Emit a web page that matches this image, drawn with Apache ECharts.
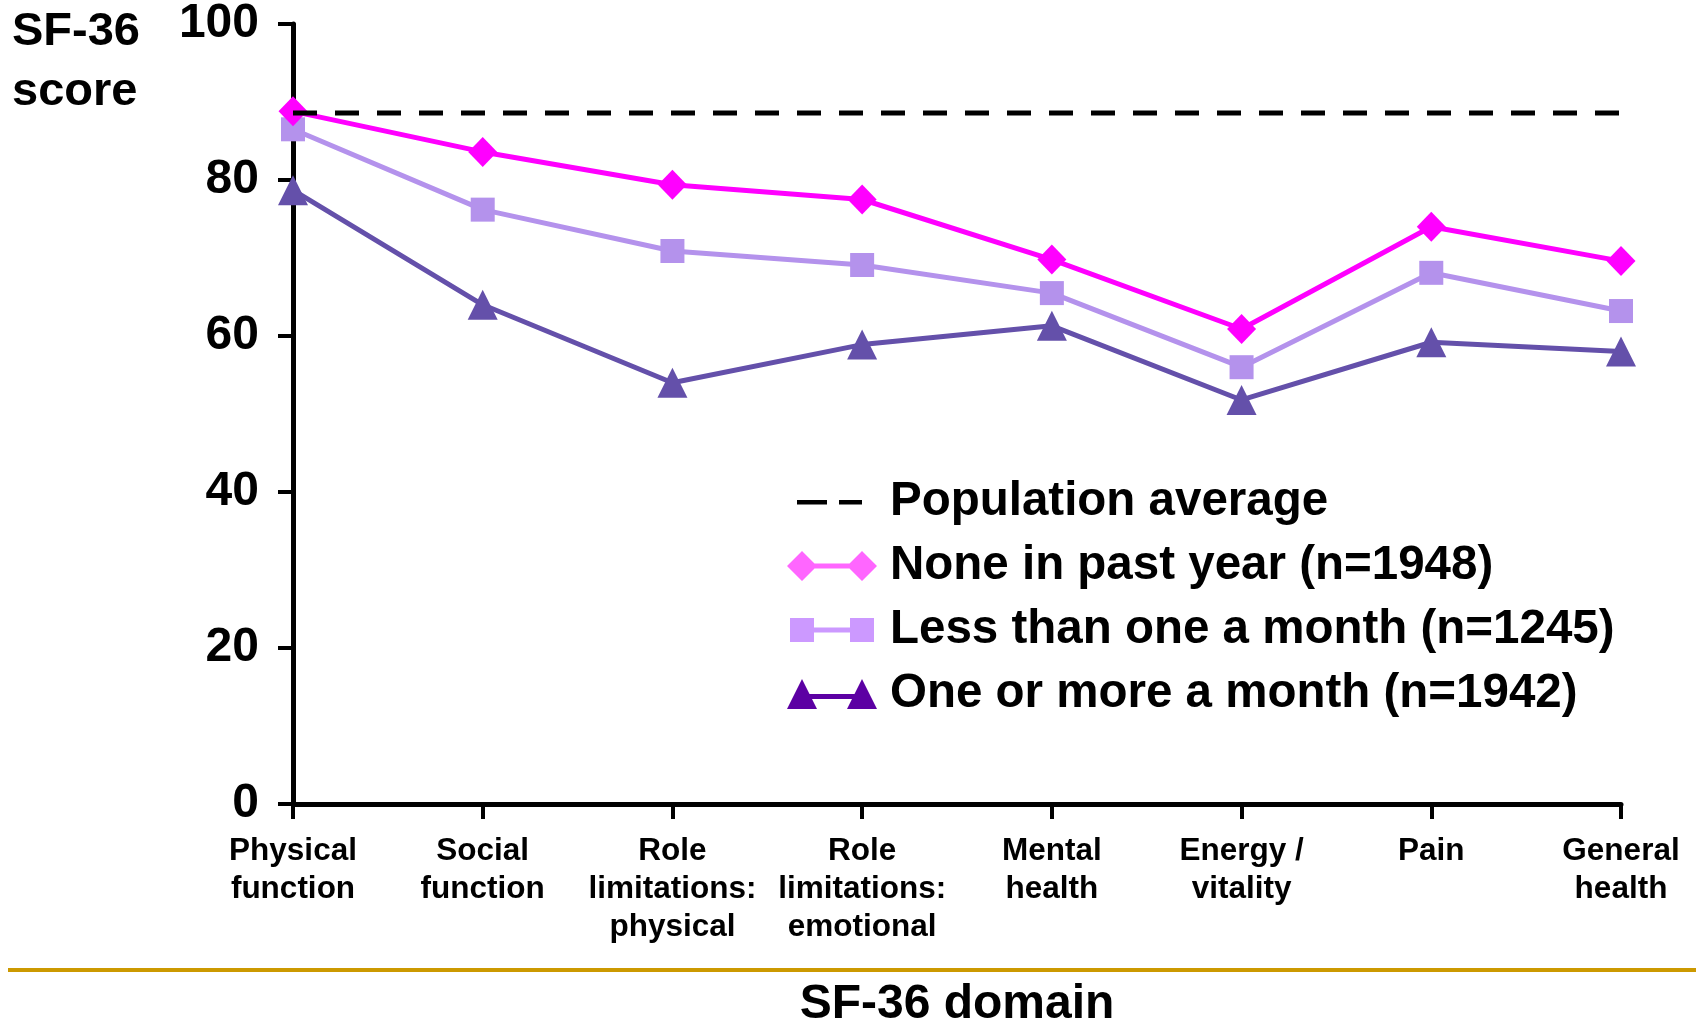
<!DOCTYPE html>
<html>
<head>
<meta charset="utf-8">
<title>SF-36 score by SF-36 domain</title>
<script src="https://cdn.jsdelivr.net/npm/echarts@6/dist/echarts.min.js"></script>
<style>
  html, body { margin: 0; padding: 0; background: #ffffff; }
  #chart { width: 1696px; height: 1022px; }
</style>
</head>
<body>
<div id="chart"></div>
<script>
// SF-36 domains along the x axis
const domains = [
  'Physical\nfunction',
  'Social\nfunction',
  'Role\nlimitations:\nphysical',
  'Role\nlimitations:\nemotional',
  'Mental\nhealth',
  'Energy /\nvitality',
  'Pain',
  'General\nhealth'
];

// Mean SF-36 scores per group
const noneInPastYear   = [88.8, 83.6, 79.4, 77.5, 69.8, 60.9, 74.0, 69.6];
const lessThanMonthly  = [86.5, 76.2, 70.9, 69.1, 65.5, 56.0, 68.1, 63.2];
const monthlyOrMore    = [78.7, 64.0, 54.0, 58.9, 61.3, 51.8, 59.2, 58.0];

// Reference value for the general population
const populationAverage = 88.6;

// Value axis ticks
const yTicks = { min: 0, max: 100, step: 20 };

const seriesNames = [
  'Population average',
  'None in past year (n=1948)',
  'Less than one a month (n=1245)',
  'One or more a month (n=1942)'
];

const FONT = '"Liberation Sans", Arial, sans-serif';

// Legend glyphs: marker - bar - marker, like the plotted lines
const iconDash     = 'path://M0 0L0 0ZM90 30L90 30ZM10 13L40 13L40 17.5L10 17.5ZM52 13L75 13L75 17.5L52 17.5Z';
const iconDiamond  = 'path://M0 15L15 0L30 15L15 30ZM60 15L75 0L90 15L75 30ZM15 12.5L75 12.5L75 17.5L15 17.5Z';
const iconSquare   = 'path://M0 0L0 0ZM90 30L90 30ZM3 3L27 3L27 27L3 27ZM63 3L87 3L87 27L63 27ZM27 12.5L63 12.5L63 17.5L27 17.5Z';
const iconTriangle = 'path://M0 30L15 0L30 30ZM60 30L75 0L90 30ZM15 15L75 15L75 20L15 20Z';

const chart = echarts.init(document.getElementById('chart'), null, { renderer: 'canvas' });

const option = {
  animation: false,
  backgroundColor: '#ffffff',
  textStyle: { fontFamily: FONT },
  title: {
    text: 'SF-36\nscore',
    left: 12,
    top: 2,
    padding: 0,
    textStyle: {
      fontFamily: FONT,
      fontWeight: 'bold',
      fontSize: 47,
      lineHeight: 60,
      color: '#000000'
    }
  },
  grid: {
    left: 293,
    right: 75,
    top: 24,
    bottom: 218,
    containLabel: false,
    outerBoundsMode: 'none'
  },
  legend: {
    orient: 'vertical',
    left: 782,
    top: 473,
    itemWidth: 94,
    itemHeight: 30,
    itemGap: 16,
    selectedMode: false,
    textStyle: {
      fontFamily: FONT,
      fontWeight: 'bold',
      fontSize: 47.5,
      lineHeight: 47.5,
      color: '#000000',
      padding: [0, 0, 0, 6]
    },
    data: [
      { name: seriesNames[0], icon: iconDash,     itemStyle: { color: '#000000' } },
      { name: seriesNames[1], icon: iconDiamond,  itemStyle: { color: '#ff66ff' } },
      { name: seriesNames[2], icon: iconSquare,   itemStyle: { color: '#cc99ff' } },
      { name: seriesNames[3], icon: iconTriangle, itemStyle: { color: '#5c00a3' } }
    ]
  },
  xAxis: {
    type: 'category',
    data: domains,
    boundaryGap: false,
    name: 'SF-36 domain',
    nameLocation: 'middle',
    nameGap: 177,
    nameTextStyle: {
      fontFamily: FONT,
      fontWeight: 'bold',
      fontSize: 48,
      color: '#000000'
    },
    axisLine: { lineStyle: { color: '#000000', width: 5 } },
    axisTick: { show: true, length: 15, lineStyle: { color: '#000000', width: 4 } },
    axisLabel: {
      interval: 0,
      margin: 28,
      fontFamily: FONT,
      fontWeight: 'bold',
      fontSize: 31.5,
      lineHeight: 38,
      color: '#000000'
    },
    splitLine: { show: false }
  },
  yAxis: {
    type: 'value',
    min: yTicks.min,
    max: yTicks.max,
    interval: yTicks.step,
    axisLine: { show: true, lineStyle: { color: '#000000', width: 5 } },
    axisTick: { show: true, length: 15, lineStyle: { color: '#000000', width: 4 } },
    axisLabel: {
      margin: 34,
      fontFamily: FONT,
      fontWeight: 'bold',
      fontSize: 48,
      color: '#000000'
    },
    splitLine: { show: false }
  },
  series: [
    {
      name: seriesNames[3],
      type: 'line',
      data: monthlyOrMore,
      z: 2,
      symbol: 'triangle',
      symbolSize: 30,
      showAllSymbol: true,
      color: '#6450aa',
      lineStyle: { color: '#6450aa', width: 5 },
      itemStyle: { color: '#6450aa' }
    },
    {
      name: seriesNames[2],
      type: 'line',
      data: lessThanMonthly,
      z: 3,
      symbol: 'rect',
      symbolSize: 24,
      showAllSymbol: true,
      color: '#b492ec',
      lineStyle: { color: '#b492ec', width: 5 },
      itemStyle: { color: '#b492ec' }
    },
    {
      name: seriesNames[1],
      type: 'line',
      data: noneInPastYear,
      z: 4,
      symbol: 'diamond',
      symbolSize: [29, 30],
      showAllSymbol: true,
      color: '#ff00ff',
      lineStyle: { color: '#ff00ff', width: 5 },
      itemStyle: { color: '#ff00ff' }
    },
    {
      name: seriesNames[0],
      type: 'line',
      data: domains.map(() => populationAverage),
      z: 5,
      symbol: 'none',
      color: '#000000',
      lineStyle: { color: '#000000', width: 5, type: [24, 18] }
    }
  ],
  graphic: [
    {
      type: 'line',
      shape: { x1: 8, y1: 970, x2: 1696, y2: 970 },
      style: { stroke: '#cc9900', lineWidth: 4 },
      silent: true
    }
  ]
};

chart.setOption(option);
</script>
</body>
</html>
